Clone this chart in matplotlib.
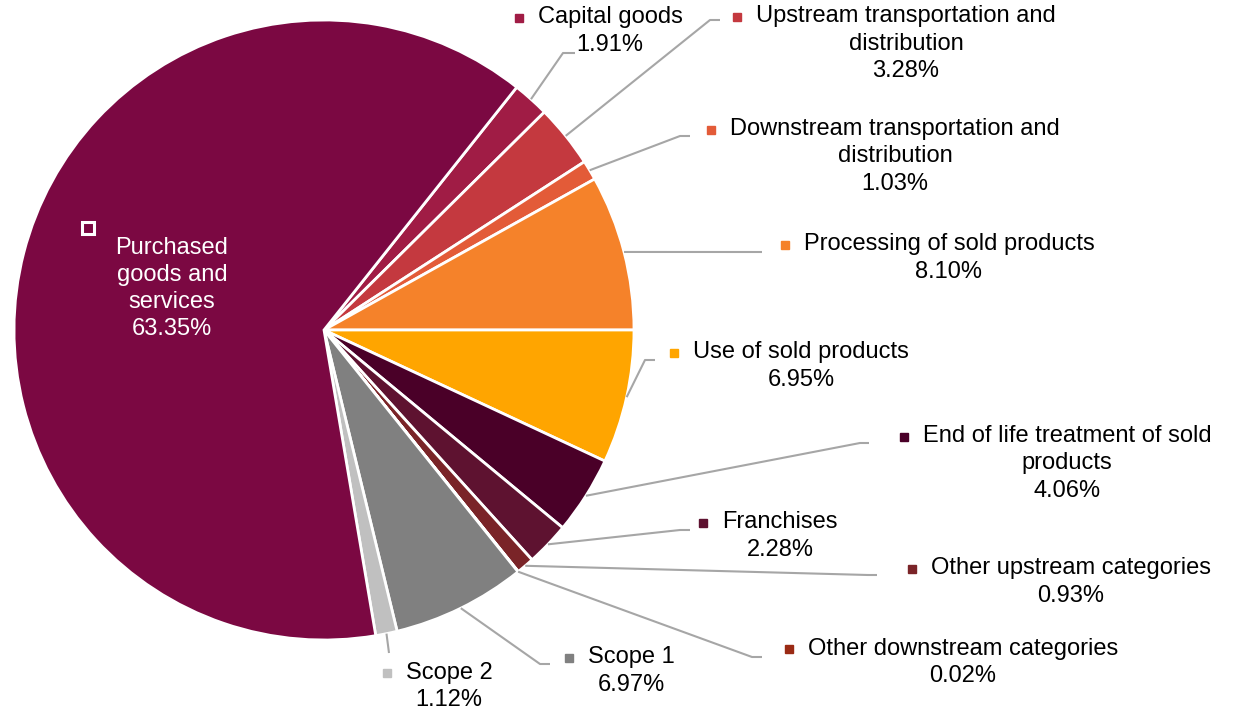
import numpy as np
import matplotlib.pyplot as plt

plt.rcParams['font.family'] = ['Liberation Sans', 'DejaVu Sans']

# slices in clockwise order, starting at Capital goods
categories = ["Capital goods",
              "Upstream transportation and\ndistribution",
              "Downstream transportation and\ndistribution",
              "Processing of sold products",
              "Use of sold products",
              "End of life treatment of sold\nproducts",
              "Franchises",
              "Other upstream categories",
              "Other downstream categories",
              "Scope 1",
              "Scope 2",
              "Purchased\ngoods and\nservices"]
shares = [1.91, 3.28, 1.03, 8.10, 6.95, 4.06, 2.28, 0.93, 0.02, 6.97, 1.12, 63.35]
colors = ["#A01C45", "#C4393F", "#E35B38", "#F5822A", "#FFA500", "#4A0028",
          "#5E1230", "#7A2428", "#9A2A14", "#808080", "#C0C0C0", "#7B0842"]

W, H = 1237, 711
cx, cy, R = 324, 330, 310

# label block centres (pixels, y down)
label_pos = [(610, 31), (906, 43.5), (895, 156.5), (949, 258), (801, 366),
             (1067, 463.5), (780, 536), (1071, 582), (963, 662.5),
             (631, 671), (449, 686.5), (172, 288.5)]
# leader elbow (x, y) and end x, pixels
leaders = [(563, 53, 575), (710, 20, 720), (680, 136, 690), (752, 252, 762),
           (645, 360, 655), (860, 443, 869), (680, 530, 690), (868, 575, 877),
           (752, 657, 762), (540, 664, 550), (389, 653, 389), None]

fig = plt.figure(figsize=(W / 100, H / 100), dpi=100)
ax = fig.add_axes([0, 0, 1, 1])

start = 3.6 * sum(shares[:4])
wedges, _ = ax.pie(shares, colors=colors, startangle=start, counterclock=False,
                   center=(cx, H - cy), radius=R,
                   wedgeprops=dict(edgecolor="white", linewidth=2))
ax.set_xlim(0, W)
ax.set_ylim(0, H)
ax.set_aspect('auto')
ax.axis('off')

fig.canvas.draw()
renderer = fig.canvas.get_renderer()

for i, (name, pct) in enumerate(zip(categories, shares)):
    inside = i == len(categories) - 1
    tcol = "white" if inside else "black"
    lx, ly = label_pos[i]
    txt = ax.text(lx, H - ly, f"{name}\n{pct:.2f}%", ha="center", va="center",
                  multialignment="center", fontsize=17, color=tcol,
                  linespacing=1.3)

    # leader line
    if leaders[i] is not None:
        w = wedges[i]
        mid = np.deg2rad((w.theta1 + w.theta2) / 2)
        sx = cx + R * np.cos(mid)
        sy = (H - cy) + R * np.sin(mid)
        ex, ey, endx = leaders[i]
        ax.plot([sx, ex, endx], [sy, H - ey, H - ey], color="#A6A6A6", lw=1.5,
                solid_capstyle="butt", zorder=1)

    # colour key square
    first = name.split("\n")[0]
    tmp = ax.text(0, 0, first, fontsize=17)
    fw = tmp.get_window_extent(renderer).width
    tmp.remove()
    bb = txt.get_window_extent(renderer)
    n_lines = name.count("\n") + 2
    line_h = bb.height / n_lines
    if inside:
        ax.plot(88, H - 228, marker="s", markersize=8, markerfacecolor=colors[i],
                markeredgecolor="white", markeredgewidth=2.2, linestyle="none")
    else:
        mx = lx - fw / 2 - 19
        my = bb.y1 - line_h / 2
        ax.plot(mx, my + 1, marker="s", markersize=6, color=colors[i],
                linestyle="none")

fig.savefig("out.png", dpi=100)
